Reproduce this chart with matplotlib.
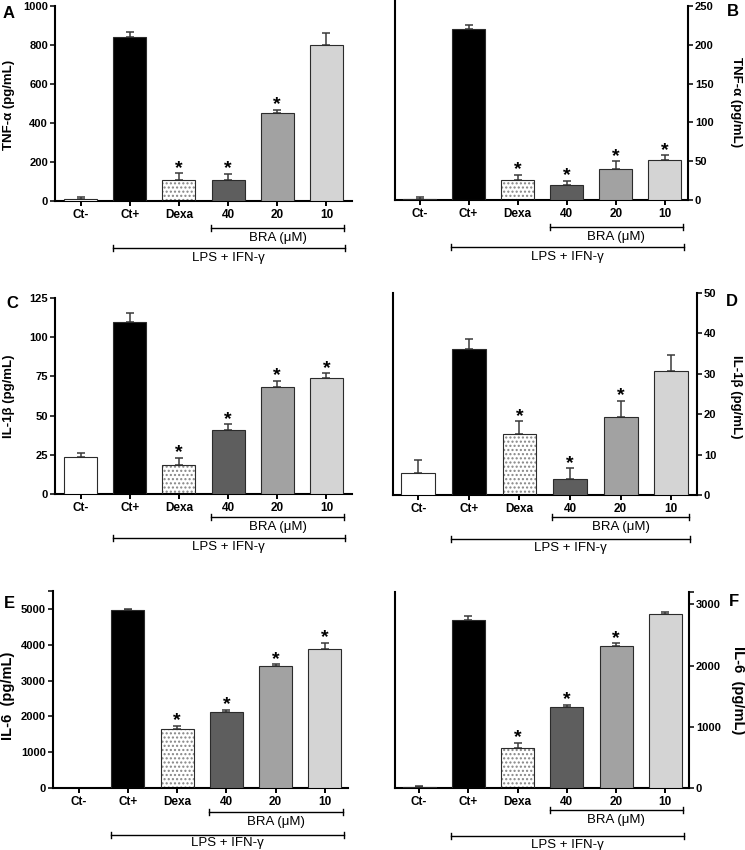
import matplotlib
matplotlib.use("Agg")
import matplotlib.pyplot as plt
import matplotlib.transforms as mtransforms
from matplotlib.ticker import FixedLocator
import numpy as np

plt.rcParams['font.family'] = ['Liberation Sans', 'DejaVu Sans']
plt.rcParams['font.weight'] = 'bold'
plt.rcParams['ytick.labelsize'] = 8
plt.rcParams['xtick.labelsize'] = 8.5

categories = ["Ct-", "Ct+", "Dexa", "40", "20", "10"]

# Panel A: TNF-alpha (left)
tnf_a = [12, 840, 106, 106, 449, 802]
tnf_a_err = [6, 27, 36, 34, 20, 58]
tnf_a_star = [False, False, True, True, True, False]
# Panel B: TNF-alpha (right)
tnf_b = [1.3, 220, 26, 19, 40, 51.5]
tnf_b_err = [2.6, 6, 6.5, 5.5, 10, 6.3]
tnf_b_star = [False, False, True, True, True, True]
# Panel C: IL-1beta (left)
il1_c = [23.6, 109.7, 18.5, 40.7, 68.1, 73.9]
il1_c_err = [2.8, 5.5, 4.7, 3.8, 4.1, 3.2]
il1_c_star = [False, False, True, True, True, True]
# Panel D: IL-1beta (right)
il1_d = [5.5, 36.2, 15.0, 4.0, 19.4, 30.6]
il1_d_err = [3.1, 2.3, 3.2, 2.6, 3.9, 4.1]
il1_d_star = [False, False, True, True, True, False]
# Panel E: IL-6 (left)
il6_e = [0, 4965, 1645, 2112, 3393, 3869]
il6_e_err = [0, 30, 84, 66, 65, 178]
il6_e_star = [False, False, True, True, True, True]
# Panel F: IL-6 (right)
il6_f = [20, 2739, 647, 1326, 2321, 2837]
il6_f_err = [15, 76, 87, 33, 43, 33]
il6_f_star = [False, False, True, True, True, False]

W, H = 745, 850
fig = plt.figure(figsize=(W / 100, H / 100), dpi=100)

def rect(l, r, t, b):
    return [l / W, 1 - b / H, (r - l) / W, (b - t) / H]

bar_colors = ['white', 'black', 'white', '#5e5e5e', '#a2a2a2', '#d4d4d4']
edge = '#2b2b2b'

panels = [
    dict(letter='A', v=tnf_a, e=tnf_a_err, s=tnf_a_star, box=(55, 352, 6, 201), ylim=1000,
         yt=[0, 200, 400, 600, 800, 1000], minor=None, side='left', ylabel='TNF-α (pg/mL)',
         xlim=(-0.52, 5.52), br=(27, 37, 47, 57), lab=(9, 105), let=(9, 13), ls=9.5),
    dict(letter='B', v=tnf_b, e=tnf_b_err, s=tnf_b_star, box=(395, 688, 1.3, 200), ylim=256,
         yt=[0, 50, 100, 150, 200, 250], minor=None, side='right', ylabel='TNF-α (pg/mL)',
         xlim=(-0.5, 5.47), br=(27.4, 37, 47, 57), lab=(736, 102), let=(733, 11), ls=9.5),
    dict(letter='C', v=il1_c, e=il1_c_err, s=il1_c_star, box=(55, 352, 298, 494), ylim=125,
         yt=[0, 25, 50, 75, 100, 125], minor=None, side='left', ylabel='IL-1β (pg/mL)',
         xlim=(-0.52, 5.52), br=(22.7, 33, 43.7, 53), lab=(9, 396), let=(12, 304), ls=9.5),
    dict(letter='D', v=il1_d, e=il1_d_err, s=il1_d_star, box=(393, 697, 293, 495), ylim=50,
         yt=[0, 10, 20, 30, 40, 50], minor=None, side='right', ylabel='IL-1β (pg/mL)',
         xlim=(-0.5, 5.51), br=(22, 32, 44, 53.5), lab=(736, 397), let=(732, 301), ls=9.5),
    dict(letter='E', v=il6_e, e=il6_e_err, s=il6_e_star, box=(53, 348, 591, 788), ylim=5500,
         yt=[0, 1000, 2000, 3000, 4000, 5000], minor=5500, side='left', ylabel='IL-6  (pg/mL)',
         xlim=(-0.52, 5.47), br=(24, 34, 47.3, 55.3), lab=(8, 696), let=(9, 604), ls=10.5),
    dict(letter='F', v=il6_f, e=il6_f_err, s=il6_f_star, box=(395, 689, 592, 788), ylim=3200,
         yt=[0, 1000, 2000, 3000], minor=3200, side='right', ylabel='IL-6  (pg/mL)',
         xlim=(-0.49, 5.48), br=(21.7, 32, 47.7, 57), lab=(738, 690), let=(734, 601), ls=10.5),
]

x = np.arange(len(categories))
bw = 0.67

for p in panels:
    l, r, t, b = p['box']
    ax = fig.add_axes(rect(l, r, t, b))
    hpx = b - t
    wpx = r - l
    vals = np.array(p['v'], dtype=float)
    errs = np.array(p['e'], dtype=float)
    for i in range(len(categories)):
        if i == 2:
            ax.bar(x[i], vals[i], width=bw, color='white', edgecolor='#858585',
                   hatch='....', linewidth=0, zorder=2)
            ax.bar(x[i], vals[i], width=bw, fill=False, edgecolor=edge,
                   linewidth=0.8, zorder=3)
        else:
            ax.bar(x[i], vals[i], width=bw, color=bar_colors[i], edgecolor=edge,
                   linewidth=0.8, zorder=3)
    ax.errorbar(x, vals, yerr=[np.zeros_like(errs), errs], fmt='none',
                ecolor='#3a3a3a', elinewidth=1.1, capsize=3, capthick=1.1, zorder=2)
    for i, st in enumerate(p['s']):
        if st:
            ax.annotate('*', (x[i], vals[i] + errs[i]), xytext=(0, -2.5),
                        textcoords='offset points', ha='center', va='bottom',
                        fontsize=14, fontweight='bold')
    ax.set_xlim(*p['xlim'])
    ax.set_ylim(0, p['ylim'])
    ax.set_yticks(p['yt'])
    ax.set_xticks(x)
    ax.set_xticklabels(categories)
    ax.tick_params(axis='x', length=3.5, width=1.4, pad=2)
    ax.tick_params(axis='y', length=3.5, width=1.1, pad=1.5)
    if p['minor'] is not None:
        ax.yaxis.set_minor_locator(FixedLocator([p['minor']]))
        ax.tick_params(axis='y', which='minor', length=3.5, width=1.1)
    for sp in ax.spines.values():
        sp.set_linewidth(1.5)
    ax.spines['top'].set_visible(False)
    if p['side'] == 'left':
        ax.spines['right'].set_visible(False)
    else:
        ax.yaxis.tick_right()
        if p['letter'] == 'B':
            ax.spines['right'].set_bounds(0, 250)
    ax.set_ylabel(p['ylabel'], fontsize=p['ls'], fontweight='bold',
                  rotation=90 if p['side'] == 'left' else 270)
    lx, ly = p['lab']
    ax.yaxis.set_label_coords((lx - l) / wpx, (b - ly) / hpx)
    ax.yaxis.label.set_va('center')
    ax.yaxis.label.set_ha('center')
    # brackets
    trans = mtransforms.blended_transform_factory(ax.transData, ax.transAxes)
    bl, bt, ll, lt = p['br']
    tick = 3.0 / hpx
    for (x0, x1, yl, yt_, txt) in [(2.65, 5.36, bl, bt, 'BRA (μM)'),
                                   (0.65, 5.38, ll, lt, 'LPS + IFN-γ')]:
        yy = -yl / hpx
        ax.plot([x0, x1], [yy, yy], color='black', lw=1.0, transform=trans, clip_on=False)
        ax.plot([x0, x0], [yy - tick, yy + tick], color='black', lw=1.0, transform=trans, clip_on=False)
        ax.plot([x1, x1], [yy - tick, yy + tick], color='black', lw=1.0, transform=trans, clip_on=False)
        ax.text((x0 + x1) / 2, -yt_ / hpx, txt, transform=trans, ha='center', va='center',
                fontsize=9.5, fontweight='normal')
    # panel letter
    fx, fy = p['let']
    fig.text(fx / W, 1 - fy / H, p['letter'], fontsize=12, fontweight='bold',
             ha='center', va='center')

fig.savefig('out.png', dpi=100)
